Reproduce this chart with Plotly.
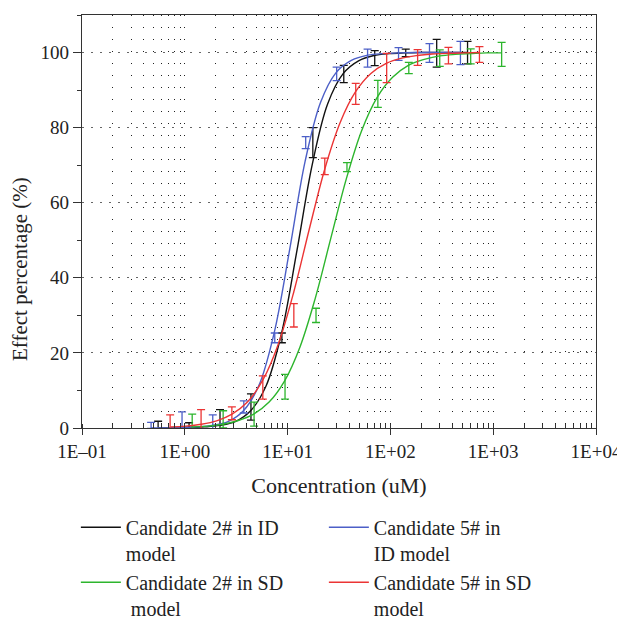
import plotly.graph_objects as go

# measured points (concentration in uM, effect %, error)
conc_2_id = [0.55, 1.1, 2.2, 4.4, 8.8, 17.6, 35.2, 70.4, 141, 282, 563]
eff_2_id = [0.8, 0.8, 2.3, 5.6, 24, 76, 94.3, 98.5, 99.9, 99.8, 100]
err_2_id = [1, 0.6, 2.6, 3.5, 1.3, 4, 2.3, 2, 1, 3.7, 3]

conc_5_id = [0.47, 0.94, 1.87, 3.75, 7.5, 15, 30, 60, 120, 240, 480]
eff_5_id = [0.7, 2.0, 1.6, 5.6, 24, 76, 94.3, 98.5, 99.6, 99.9, 99.9]
err_5_id = [0.8, 2.3, 1.9, 1.6, 1.3, 1.6, 1.8, 2.4, 1.7, 2.5, 3.1]

conc_2_sd = [1.18, 2.36, 4.72, 9.44, 18.9, 37.8, 75.5, 151, 302, 604, 1208]
eff_2_sd = [1.7, 2.3, 3.7, 11, 30, 69.5, 89, 95.9, 98.5, 99, 99.5]
err_2_sd = [2, 2.3, 3.2, 3.3, 1.9, 1.2, 3.6, 1.5, 2.2, 2, 3.2]

conc_5_sd = [0.72, 1.44, 2.87, 5.74, 11.5, 23, 46, 92, 184, 367, 735]
eff_5_sd = [1.6, 2.3, 3.9, 10.8, 30, 69.7, 89, 95.9, 98.7, 99.2, 99.5]
err_5_sd = [1.9, 2.6, 1.7, 3.1, 3.1, 2.2, 2.8, 3.9, 2.1, 2.2, 2.1]

# fitted curves
fit_2_id_x = [0.55, 0.776, 1.10, 1.55, 2.19, 3.09, 4.37, 6.17, 8.71, 12.3, 17.4,
              24.5, 34.7, 49.0, 69.2, 97.7, 138, 195, 282, 398, 562]
fit_2_id_y = [0.0, 0.0, 0.1, 0.3, 0.7, 1.7, 4.6, 11.2, 25.1, 47.1, 70.3,
              86.3, 94.4, 97.8, 99.2, 99.7, 99.9, 100, 100, 100, 100]

fit_5_id_x = [0.468, 0.661, 0.933, 1.32, 1.86, 2.63, 3.72, 5.25, 7.41, 10.5, 14.8,
              20.9, 29.5, 41.7, 60.3, 85.1, 120, 170, 240, 339, 479]
fit_5_id_y = [0.0, 0.0, 0.1, 0.3, 0.7, 1.7, 4.6, 11.3, 25.4, 47.7, 71.0,
              86.7, 94.6, 97.9, 99.3, 99.7, 99.9, 100, 100, 100, 100]

fit_2_sd_x = [1.17, 1.66, 2.34, 3.31, 4.68, 6.61, 9.33, 13.2, 18.6, 26.3, 37.2,
              52.5, 74.1, 105, 148, 209, 302, 427, 603, 851, 1202]
fit_2_sd_y = [0.3, 0.5, 1.0, 2.0, 3.7, 6.9, 12.5, 21.6, 34.6, 50.5, 66.3,
              79.2, 88.0, 93.4, 96.5, 98.1, 99.1, 99.5, 99.7, 99.9, 99.9]

fit_5_sd_x = [0.724, 1.02, 1.45, 2.04, 2.88, 4.07, 5.75, 8.13, 11.5, 16.2, 22.9,
              32.4, 45.7, 64.6, 91.2, 129, 182, 257, 372, 525, 741]
fit_5_sd_y = [0.3, 0.5, 1.0, 1.9, 3.7, 6.9, 12.8, 22.4, 36.3, 52.8, 68.8,
              81.3, 89.5, 94.4, 97.1, 98.5, 99.2, 99.6, 99.8, 99.9, 100]

x_tickvals = [0.1, 1, 10, 100, 1000, 10000]
x_ticktext = ['1E\u201301', '1E+00', '1E+01', '1E+02', '1E+03', '1E+04']
y_tickvals = [0, 20, 40, 60, 80, 100]

series = [
    ('Candidate 2# in ID<br>model', '#111111', conc_2_id, eff_2_id, err_2_id, fit_2_id_x, fit_2_id_y),
    ('Candidate 5# in<br>ID model', '#4C5FC7', conc_5_id, eff_5_id, err_5_id, fit_5_id_x, fit_5_id_y),
    ('Candidate 2# in SD<br> model', '#2DB52D', conc_2_sd, eff_2_sd, err_2_sd, fit_2_sd_x, fit_2_sd_y),
    ('Candidate 5# in SD<br>model', '#EB3434', conc_5_sd, eff_5_sd, err_5_sd, fit_5_sd_x, fit_5_sd_y),
]

FONT = 'Liberation Serif, Times New Roman, serif'

fig = go.Figure()

for name, color, cx, cy, ce, fx, fy in series:
    fig.add_trace(go.Scatter(
        x=fx, y=fy, mode='lines', name=name,
        line=dict(color=color, width=1.4, shape='spline'),
    ))
    # error bars only, the centre marker is hidden
    fig.add_trace(go.Scatter(
        x=cx, y=cy, mode='markers', showlegend=False,
        marker=dict(size=6, color='rgba(0,0,0,0)'),
        error_y=dict(type='data', array=ce, visible=True,
                     color=color, thickness=1.3, width=4),
    ))

# y title sits below the plot centre in the original, so it is an annotation
fig.add_annotation(
    text='Effect percentage (%)', textangle=-90,
    xref='paper', yref='paper', x=-0.1206, y=0.385,
    xanchor='center', yanchor='middle',
    showarrow=False, font=dict(family=FONT, size=21, color='#222222'),
)

# page body adds an 8px offset, so the figure is smaller than the window
fig.update_layout(
    width=617, height=614,
    margin=dict(l=74, r=29, t=7, b=194),
    plot_bgcolor='white', paper_bgcolor='white',
    font=dict(family=FONT, size=19, color='#222222'),
    xaxis=dict(
        type='log', range=[-1, 4], automargin=False,
        tickvals=x_tickvals, ticktext=x_ticktext, ticklabeloverflow='allow',
        ticks='outside', ticklen=6, tickwidth=1.2, tickcolor='#333333',
        showline=True, linecolor='#333333', linewidth=1.3, mirror=True,
        showgrid=True, gridcolor='#222222', gridwidth=1, griddash='1px,11px',
        minor=dict(dtick='D1', ticks='inside', ticklen=4, tickcolor='#333333',
                   showgrid=True, gridcolor='#222222', gridwidth=1,
                   griddash='1px,11px'),
        title=dict(text='Concentration (uM)', font=dict(size=22), standoff=16),
        zeroline=False,
    ),
    yaxis=dict(
        range=[0, 110], automargin=False,
        tickvals=y_tickvals,
        ticks='outside', ticklen=8, tickwidth=1.2, tickcolor='#333333',
        showline=True, linecolor='#333333', linewidth=1.3, mirror=True,
        showgrid=True, gridcolor='#666666', gridwidth=1, griddash='2px,7px',
        minor=dict(dtick=10, ticks='outside', ticklen=4, tickcolor='#333333',
                   showgrid=False),
        zeroline=False,
    ),
    legend=dict(
        orientation='h', xref='container', yref='container',
        x=0.11, xanchor='left', y=0.186, yanchor='top',
        entrywidth=193, entrywidthmode='pixels', valign='top', itemwidth=40,
        font=dict(family=FONT, size=20, color='#222222'),
        bgcolor='rgba(0,0,0,0)',
    ),
)

fig.write_html('out.html')
